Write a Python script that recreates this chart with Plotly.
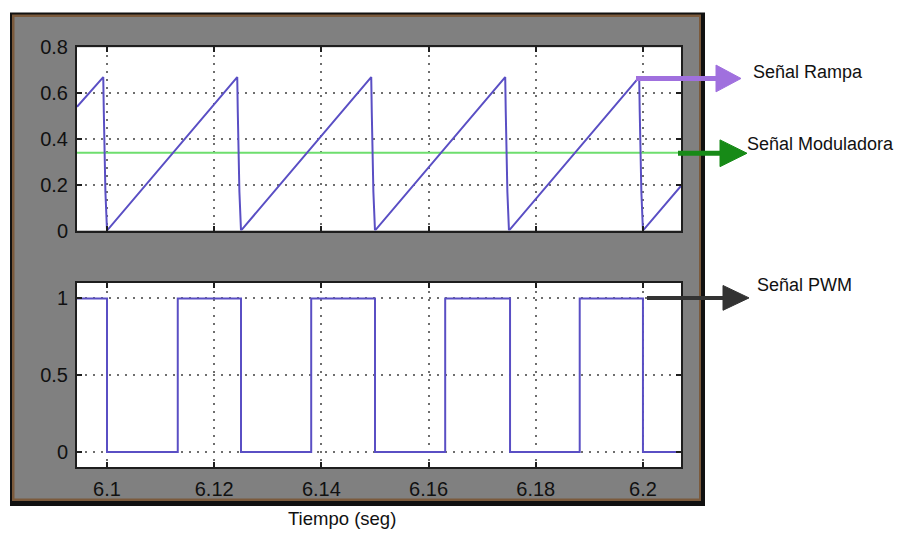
import plotly.graph_objects as go

# ---------------- data ----------------
ramp_time = [6.0944, 6.0993, 6.0994, 6.0997, 6.1000,
             6.1243, 6.1244, 6.1247, 6.1250,
             6.1493, 6.1494, 6.1497, 6.1500,
             6.1743, 6.1744, 6.1747, 6.1750,
             6.1993, 6.1994, 6.1997, 6.2000, 6.2071]
ramp_value = [0.54, 0.67, 0.52, 0.17, 0.0,
              0.67, 0.52, 0.17, 0.0,
              0.67, 0.52, 0.17, 0.0,
              0.67, 0.52, 0.17, 0.0,
              0.67, 0.52, 0.17, 0.0, 0.195]

mod_time = [6.0944, 6.2071]
mod_value = [0.34, 0.34]

pwm_time = [6.0944, 6.1000, 6.1132, 6.1250, 6.1381, 6.1500,
            6.1631, 6.1752, 6.1882, 6.2000, 6.2071]
pwm_value = [1, 0, 1, 0, 1, 0, 1, 0, 1, 0, 0]

x_tickvals = [6.1, 6.12, 6.14, 6.16, 6.18, 6.2]
x_ticktext = ["6.1", "6.12", "6.14", "6.16", "6.18", "6.2"]
y1_tickvals = [0, 0.2, 0.4, 0.6, 0.8]
y1_ticktext = ["0", "0.2", "0.4", "0.6", "0.8"]
y2_tickvals = [0, 0.5, 1]
y2_ticktext = ["0", "0.5", "1"]

x_label = "Tiempo (seg)"
label_rampa = "Señal Rampa"
label_mod = "Señal Moduladora"
label_pwm = "Señal PWM"

# ---------------- layout helpers ----------------
W, H = 906, 536
VS, VO = 0.968, 8.4   # vertical calibration of the captured page
def px(x):
    return x / W
def py(y):
    return 1 - ((y - VO) / VS) / H

LINE_BLUE = "#5a4fc4"
FONT = "Arial, Liberation Sans, sans-serif"

fig = go.Figure()
fig.add_trace(go.Scatter(x=mod_time, y=mod_value, mode="lines",
                         line=dict(color="#6ede6e", width=2),
                         xaxis="x", yaxis="y", showlegend=False, hoverinfo="skip"))
fig.add_trace(go.Scatter(x=ramp_time, y=ramp_value, mode="lines",
                         line=dict(color=LINE_BLUE, width=2),
                         xaxis="x", yaxis="y", showlegend=False, hoverinfo="skip"))
fig.add_trace(go.Scatter(x=pwm_time, y=pwm_value, mode="lines",
                         line=dict(color=LINE_BLUE, width=2, shape="hv"),
                         xaxis="x2", yaxis="y2", showlegend=False, hoverinfo="skip"))

xdom = [px(77), px(681)]
xrange_ = [6.0944, 6.2071]

common_axis = dict(
    showline=True, linecolor="#1e1e1e", linewidth=2, mirror="ticks",
    ticks="inside", ticklen=5, tickwidth=2, tickcolor="#1e1e1e",
    showgrid=True, gridcolor="#6e6e6e", gridwidth=2, griddash="2px,6px",
    zeroline=False,
    tickfont=dict(family=FONT, size=20, color="#111111"),
    fixedrange=True,
)

fig.update_layout(
    width=W, height=H,
    margin=dict(l=0, r=0, t=0, b=0),
    paper_bgcolor="white", plot_bgcolor="white",
    xaxis=dict(domain=xdom, range=xrange_, anchor="y",
               tickvals=x_tickvals, ticktext=x_ticktext, showticklabels=False,
               **common_axis),
    yaxis=dict(domain=[py(230), py(45)], range=[0, 0.8], anchor="x",
               tickvals=y1_tickvals, ticktext=y1_ticktext, ticklabelstandoff=3,
               **common_axis),
    xaxis2=dict(domain=xdom, range=xrange_, anchor="y2",
                tickvals=x_tickvals, ticktext=x_ticktext, ticklabelstandoff=3,
                **common_axis),
    yaxis2=dict(domain=[py(469), py(283)], range=[-0.1, 1.1], anchor="x2",
                tickvals=y2_tickvals, ticktext=y2_ticktext, ticklabelstandoff=3,
                **common_axis),
)

shapes = []
def rect(x0, y0, x1, y1, color):
    shapes.append(dict(type="rect", xref="paper", yref="paper",
                       x0=px(x0), x1=px(x1), y0=py(y1), y1=py(y0),
                       fillcolor=color, line=dict(width=0), layer="below"))

# panel frame: black shadow, brown bevel, gray face
rect(10, 10, 705, 508, "#111111")
rect(12, 12, 701, 503, "#7b5a3c")
rect(14.5, 14.5, 699, 500.5, "#808080")
# white plot areas
rect(77, 45, 681, 230, "white")
rect(77, 283, 681, 469, "white")

def arrow(x0, x1, xtip, y, half, color, width):
    shapes.append(dict(type="line", xref="paper", yref="paper",
                       x0=px(x0), x1=px(x1), y0=py(y), y1=py(y),
                       line=dict(color=color, width=width), layer="above"))
    path = "M {a},{b} L {c},{d} L {e},{f} Z".format(
        a=px(x1), b=py(y - half), c=px(xtip), d=py(y), e=px(x1), f=py(y + half))
    shapes.append(dict(type="path", xref="paper", yref="paper", path=path,
                       fillcolor=color, line=dict(color=color, width=1), layer="above"))

arrow(636, 716, 741, 76.5, 13.5, "#a070de", 5)
arrow(678, 720, 747, 152, 13.5, "#178a17", 5)
arrow(647, 723, 749, 298, 12.5, "#333333", 4)

fig.update_layout(shapes=shapes)

ann = [
    dict(text=label_rampa, x=px(751), y=py(70), xanchor="left", yanchor="middle", size=18),
    dict(text=label_mod, x=px(745), y=py(143), xanchor="left", yanchor="middle", size=18),
    dict(text=label_pwm, x=px(755), y=py(285), xanchor="left", yanchor="middle", size=18),
    dict(text=x_label, x=px(342), y=py(521), xanchor="center", yanchor="middle", size=18.5),
]
for a in ann:
    s = a.pop("size")
    a.update(xref="paper", yref="paper", showarrow=False,
             font=dict(family=FONT, size=s, color="#111111"))
fig.update_layout(annotations=ann)

# let the 906x536 figure fill the window exactly (no default body margin)
page_fix = ("document.documentElement.style.margin='0';"
            "document.body.style.margin='0';"
            "document.documentElement.style.overflow='hidden';"
            "document.body.style.overflow='hidden';")

fig.write_html("out.html", post_script=page_fix,
               config={"displayModeBar": False, "staticPlot": True})
